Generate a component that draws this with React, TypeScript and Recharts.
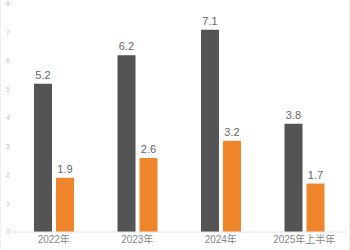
import { Bar, BarChart, LabelList, XAxis, YAxis } from "recharts";

const categories = ["2022年", "2023年", "2024年", "2025年上半年"];
const darkValues = [5.2, 6.2, 7.1, 3.8];
const orangeValues = [1.9, 2.6, 3.2, 1.7];
const yTicks = [0, 1, 2, 3, 4, 5, 6, 7, 8];

const data = categories.map((name, i) => ({
  name,
  dark: darkValues[i],
  orange: orangeValues[i],
}));

const FONT = "'Liberation Sans', 'Noto Sans CJK SC', sans-serif";

export default function App() {
  return (
    <div
      style={{
        position: "absolute",
        left: 0,
        top: 0,
        width: 350,
        height: 250,
        background: "#fff",
        boxSizing: "border-box",
        borderLeft: "1px solid #f0f0f0",
        borderRight: "1px solid #f0f0f0",
        fontFamily: FONT,
      }}
    >
      <BarChart
        width={348}
        height={250}
        data={data}
        margin={{ top: 4, right: 3, left: 0, bottom: 0 }}
        barSize={18}
        barGap={4}
      >
        <XAxis
          dataKey="name"
          height={18}
          tickLine={false}
          tickSize={0}
          tickMargin={4}
          axisLine={{ stroke: "#e2e2e2" }}
          tick={{ fill: "#888", fontSize: 10, fontFamily: FONT }}
          interval={0}
        />
        <YAxis
          domain={[0, 8]}
          ticks={yTicks}
          width={11}
          tickLine={false}
          tickSize={0}
          axisLine={false}
          tickMargin={4}
          tick={{ fill: "#c4c4c4", fontSize: 7, fontFamily: FONT, textAnchor: "middle" }}
        />
        <Bar dataKey="dark" fill="#545454" isAnimationActive={false}>
          <LabelList
            dataKey="dark"
            position="top"
            offset={5}
            fill="#666"
            fontSize={11}
            fontFamily={FONT}
          />
        </Bar>
        <Bar dataKey="orange" fill="#f0862b" isAnimationActive={false}>
          <LabelList
            dataKey="orange"
            position="top"
            offset={5}
            fill="#666"
            fontSize={11}
            fontFamily={FONT}
          />
        </Bar>
      </BarChart>
    </div>
  );
}
